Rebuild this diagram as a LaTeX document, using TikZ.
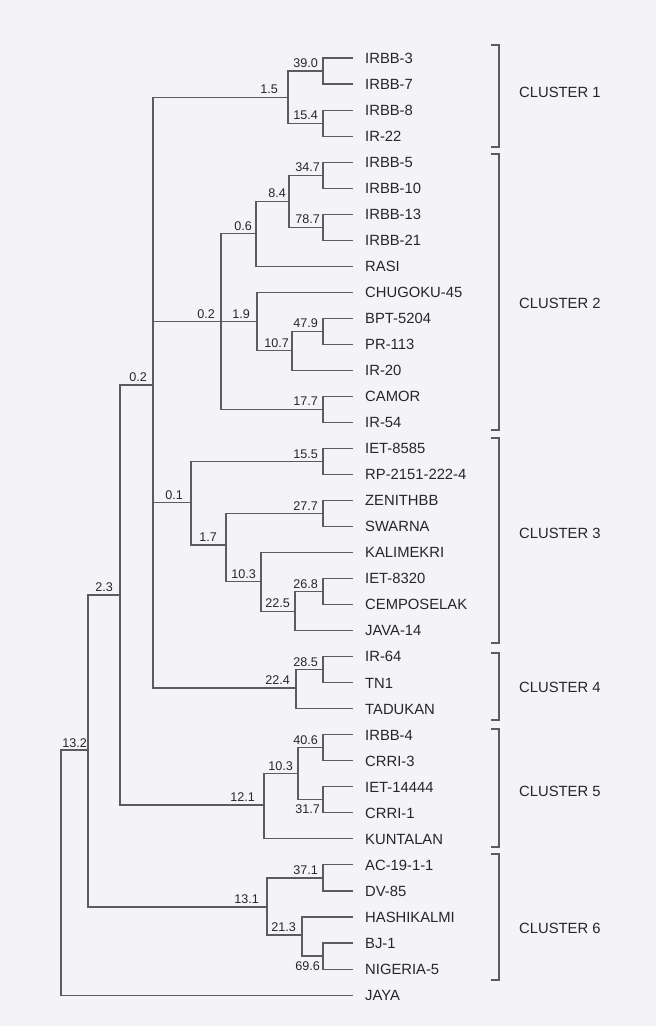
\documentclass[tikz,border=0pt]{standalone}
\usepackage{fontspec}
\setmainfont{Liberation Sans}
\usetikzlibrary{calc}
\definecolor{paper}{RGB}{244,244,246}
\definecolor{ink}{RGB}{38,38,40}
\definecolor{branch}{RGB}{92,92,96}
\begin{document}
\begin{tikzpicture}[x=1pt,y=-1pt,
  br/.style={draw=branch, line width=1.1pt, line cap=rect},
  bracket/.style={draw=branch, line width=1.1pt},
  leaf/.style={anchor=base west, inner sep=0pt, xshift=13pt, yshift=-5.3pt, text=ink, font=\fontsize{14.8}{16}\selectfont},
  numbase/.style={anchor=base east, inner sep=0pt, text=ink, font=\fontsize{12.6}{14}\selectfont},
  num/.style={numbase, xshift=-5pt, yshift=3.5pt},
  numbelow/.style={numbase, xshift=-3pt, yshift=-14pt},
  clab/.style={anchor=west, inner sep=0pt, text=ink, font=\fontsize{14.8}{16}\selectfont}]
\fill[paper] (0,0) rectangle (656,1026);
\useasboundingbox (0,0) rectangle (656,1026);

% leaves
\foreach \t [count=\i from 0] in {IRBB-3, IRBB-7, IRBB-8, IR-22, IRBB-5, IRBB-10, IRBB-13, IRBB-21, RASI, CHUGOKU-45, BPT-5204, PR-113, IR-20, CAMOR, IR-54, IET-8585, RP-2151-222-4, ZENITHBB, SWARNA, KALIMEKRI, IET-8320, CEMPOSELAK, JAVA-14, IR-64, TN1, TADUKAN, IRBB-4, CRRI-3, IET-14444, CRRI-1, KUNTALAN, AC-19-1-1, DV-85, HASHIKALMI, BJ-1, NIGERIA-5, JAYA} {
  \coordinate (L\i) at (352, {58+26.03*\i});
  \node[leaf] (t\i) at (L\i) {\t};
}

% internal nodes
\coordinate (n390) at (323,71.0);
\coordinate (n154) at (323,123.1);
\coordinate (n15) at (288,97.1);
\coordinate (n347) at (323,175.2);
\coordinate (n787) at (323,227.2);
\coordinate (n84) at (289,201.2);
\coordinate (n06) at (256,233.7);
\coordinate (n479) at (323,331.3);
\coordinate (n107) at (292,350.9);
\coordinate (n19) at (257,321.6);
\coordinate (n177) at (323,409.4);
\coordinate (nE) at (221,321.6);
\coordinate (n155) at (323,461.5);
\coordinate (n277) at (323,513.5);
\coordinate (n268) at (323,591.6);
\coordinate (n225) at (295,611.2);
\coordinate (n103) at (261,581.9);
\coordinate (n17) at (226,545.0);
\coordinate (n01) at (191,502.5);
\coordinate (n285) at (323,669.7);
\coordinate (n224) at (296,688.0);
\coordinate (nD) at (153,385.0);
\coordinate (n406) at (323,747.8);
\coordinate (n317) at (323,799.9);
\coordinate (n103b) at (298,773.8);
\coordinate (n121) at (264,805.0);
\coordinate (n371) at (323,878.0);
\coordinate (n696) at (323,956.0);
\coordinate (n213) at (302,935.0);
\coordinate (n131) at (267,907.0);
\coordinate (nC) at (120,595.0);
\coordinate (nB) at (88,750.0);
\coordinate (nR) at (61,872.0);

% horizontal branches (parent to child)
\foreach \p/\c in {n390/L0, n390/L1, n154/L2, n154/L3, n15/n390, n15/n154,
  nD/n15, nD/nE, nD/n01, nD/n224,
  n347/L4, n347/L5, n787/L6, n787/L7, n84/n347, n84/n787, n06/n84, n06/L8,
  n479/L10, n479/L11, n107/n479, n107/L12, n19/L9, n19/n107, n177/L13, n177/L14,
  nE/n06, nE/n19, nE/n177,
  n155/L15, n155/L16, n277/L17, n277/L18, n268/L20, n268/L21, n225/n268, n225/L22,
  n103/L19, n103/n225, n17/n277, n17/n103, n01/n155, n01/n17,
  n285/L23, n285/L24, n224/n285, n224/L25,
  n406/L26, n406/L27, n317/L28, n317/L29, n103b/n406, n103b/n317, n121/n103b, n121/L30,
  n371/L31, n371/L32, n696/L34, n696/L35, n213/L33, n213/n696, n131/n371, n131/n213,
  nC/nD, nC/n121, nB/nC, nB/n131, nR/nB, nR/L36}
  \draw[br] (\p |- \c) -- (\c);

% vertical branches
\foreach \p/\a/\b in {n390/L0/L1, n154/L2/L3, n15/n390/n154, nD/n15/n224,
  n347/L4/L5, n787/L6/L7, n84/n347/n787, n06/n84/L8, n479/L10/L11, n107/n479/L12,
  n19/L9/n107, n177/L13/L14, nE/n06/n177, n155/L15/L16, n277/L17/L18, n268/L20/L21,
  n225/n268/L22, n103/L19/n225, n17/n277/n103, n01/n155/n17, n285/L23/L24,
  n224/n285/L25, n406/L26/L27, n317/L28/L29, n103b/n406/n317, n121/n103b/L30,
  n371/L31/L32, n696/L34/L35, n213/L33/n696, n131/n371/n213, nC/nD/n121,
  nB/nC/n131, nR/nB/L36}
  \draw[br] (\p |- \a) -- (\p |- \b);

% node values
\node[num] (v390) at (n390) {39.0};
\node[num] (v154) at (n154) {15.4};
\node[num, xshift=-5pt] (v15) at (n15) {1.5};
\node[num, xshift=2pt] (v347) at (n347) {34.7};
\node[num, xshift=2pt] (v787) at (n787) {78.7};
\node[num, xshift=2pt] (v84) at (n84) {8.4};
\node[num, xshift=1pt] (v06) at (n06) {0.6};
\node[num] (v479) at (n479) {47.9};
\node[num, xshift=2pt] (v107) at (n107) {10.7};
\node[num, xshift=-2pt] (v19) at (n19) {1.9};
\node[num] (v177) at (n177) {17.7};
\node[num, xshift=-1pt] (vE) at (nE) {0.2};
\node[num] (v155) at (n155) {15.5};
\node[num] (v277) at (n277) {27.7};
\node[num] (v268) at (n268) {26.8};
\node[num] (v225) at (n225) {22.5};
\node[num] (v103) at (n103) {10.3};
\node[num, xshift=-4pt] (v17) at (n17) {1.7};
\node[num, xshift=-3pt] (v01) at (n01) {0.1};
\node[num] (v285) at (n285) {28.5};
\node[num, xshift=-1pt] (v224) at (n224) {22.4};
\node[num, xshift=-1pt] (vD) at (nD) {0.2};
\node[num] (v406) at (n406) {40.6};
\node[numbelow] (v317) at (n317) {31.7};
\node[num] (v103b) at (n103b) {10.3};
\node[num, xshift=-4pt] (v121) at (n121) {12.1};
\node[num] (v371) at (n371) {37.1};
\node[numbelow] (v696) at (n696) {69.6};
\node[num, xshift=-1pt] (v213) at (n213) {21.3};
\node[num, xshift=-3pt] (v131) at (n131) {13.1};
\node[num, xshift=-2pt] (vC) at (nC) {2.3};
\node[num, xshift=4pt, yshift=-1pt] (vB) at (nB) {13.2};

% cluster brackets
\foreach \k/\a/\b/\m in {1/45/147/92, 2/154/430/303, 3/438/643/533, 4/653/720/687, 5/729/847/791, 6/854/980/928} {
  \coordinate (ba\k) at (499,\a);
  \coordinate (bb\k) at (499,\b);
  \draw[bracket] ([xshift=-8pt]ba\k) -- (ba\k) -- (bb\k) -- ([xshift=-8pt]bb\k);
  \node[clab] (cl\k) at (519,\m) {CLUSTER \k};
}
\end{tikzpicture}
\end{document}
